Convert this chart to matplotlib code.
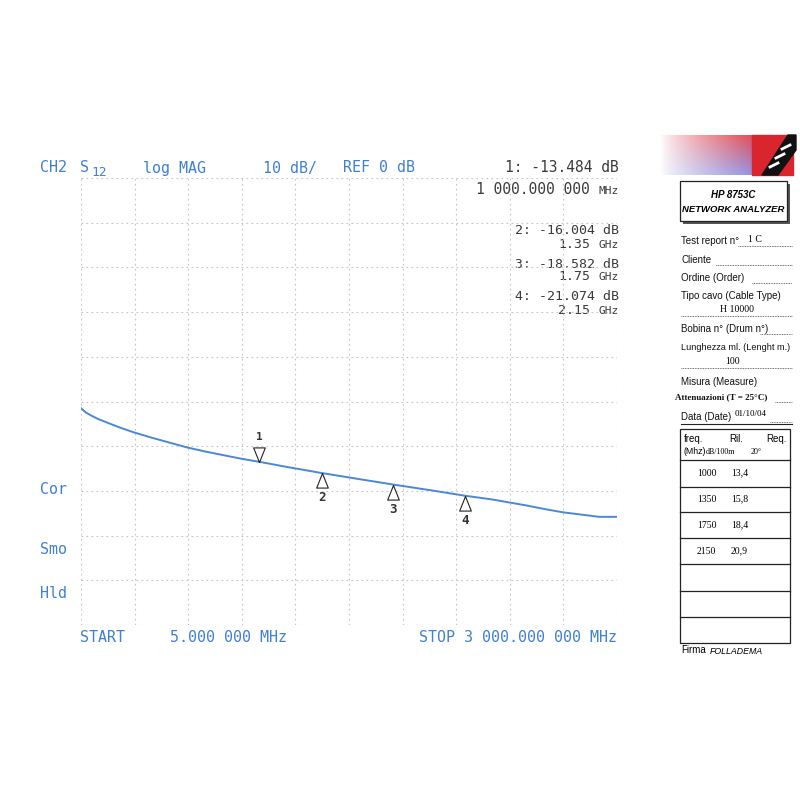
import numpy as np
import matplotlib
matplotlib.use("Agg")
import matplotlib.pyplot as plt
from matplotlib.patches import Rectangle, Polygon

# ---------------- data ----------------
freq_mhz = [5, 30, 60, 100, 150, 220, 300, 400, 500, 600, 700, 800, 900, 1000,
            1150, 1350, 1550, 1750, 1950, 2150, 2300, 2400, 2500, 2600, 2700,
            2800, 2900, 3000]
s12_db = [-1.5, -2.4, -3.1, -3.9, -4.7, -5.8, -6.9, -8.1, -9.2, -10.3, -11.2,
          -12.0, -12.8, -13.484, -14.6, -16.004, -17.3, -18.582, -19.8, -21.074,
          -21.9, -22.6, -23.3, -24.1, -24.8, -25.3, -25.8, -25.8]
marker_ids = ["1", "2", "3", "4"]
marker_freq = [1000, 1350, 1750, 2150]
marker_db = [-13.484, -16.004, -18.582, -21.074]
readout_db = ["1: -13.484 dB", "2: -16.004 dB", "3: -18.582 dB", "4: -21.074 dB"]
readout_num = ["1 000.000 000", "1.35", "1.75", "2.15"]
readout_unit = ["MHz", "GHz", "GHz", "GHz"]
table_freq = ["1000", "1350", "1750", "2150"]
table_ril = ["13,4", "15,8", "18,4", "20,9"]
form_labels = ["Test report n°", "Cliente", "Ordine (Order)", "Tipo cavo (Cable Type)",
               "Bobina n° (Drum n°)", "Lunghezza ml. (Lenght m.)", "Misura (Measure)",
               "Data (Date)"]

BLUE = "#3f7fd6"
DARK = "#3a3a3a"
MONO = "DejaVu Sans Mono"
NARROW = ["Liberation Sans Narrow", "Liberation Sans", "DejaVu Sans"]
SERIF = ["Liberation Serif", "DejaVu Serif"]

fig = plt.figure(figsize=(8, 8), dpi=100)
fig.patch.set_facecolor("white")

# overlay in pixel coordinates for the annotations / form
ov = fig.add_axes([0, 0, 1, 1], zorder=0)
ov.set_xlim(0, 800)
ov.set_ylim(800, 0)
ov.axis("off")

# ---------------- main analyzer trace ----------------
L, R, T, B = 81, 617, 178, 625
ax = fig.add_axes([L / 800, 1 - B / 800, (R - L) / 800, (B - T) / 800], zorder=2)
ax.patch.set_alpha(0)
ax.set_xlim(5, 3000)
ax.set_ylim(-50, 50)
ax.set_xticks(np.linspace(5, 3000, 11))
ax.set_yticks(np.arange(-50, 51, 10))
ax.tick_params(length=0, labelbottom=False, labelleft=False)
for s in ax.spines.values():
    s.set_visible(False)
ax.grid(True, color="#c4c4c4", linestyle=(0, (1.5, 3)), linewidth=0.8)

ax.plot(freq_mhz, s12_db, color="#4a88d8", lw=1.4, zorder=3)

down_tri = [(0, 0), (-0.4, 1), (0.4, 1), (0, 0)]
up_tri = [(0, 0), (-0.4, -1), (0.4, -1), (0, 0)]
for i, (mid, f, d) in enumerate(zip(marker_ids, marker_freq, marker_db)):
    if i == 0:
        ax.plot([f], [d], marker=down_tri, ms=21, mfc="white", mec="#222222",
                mew=0.8, ls="none", zorder=4)
        ax.annotate(mid, (f, d), xytext=(0, 14), textcoords="offset points",
                    ha="center", va="bottom", fontsize=8, family=MONO,
                    color="#333333", fontweight="bold")
    else:
        ax.plot([f], [d], marker=up_tri, ms=21, mfc="white", mec="#222222",
                mew=0.8, ls="none", zorder=4)
        ax.annotate(mid, (f, d), xytext=(0, -13), textcoords="offset points",
                    ha="center", va="top", fontsize=9, family=MONO,
                    color="#333333", fontweight="bold")

# ---------------- analyzer texts ----------------
fs = 10.8
ov.text(40, 168, "CH2", color=BLUE, family=MONO, fontsize=fs, va="center")
ov.text(80, 168, "S", color=BLUE, family=MONO, fontsize=fs, va="center")
ov.text(91, 172, "12", color=BLUE, family=MONO, fontsize=fs - 1.5, va="center")
ov.text(143, 168, "log MAG", color=BLUE, family=MONO, fontsize=fs, va="center")
ov.text(263, 168, "10 dB/", color=BLUE, family=MONO, fontsize=fs, va="center")
ov.text(343, 168, "REF 0 dB", color=BLUE, family=MONO, fontsize=fs, va="center")

ro_y = [(168, 190), (231, 244), (264, 277), (297, 310)]
rfs = 9.5
for (y1, y2), t1, num, unit in zip(ro_y, readout_db, readout_num, readout_unit):
    ov.text(619, y1, t1, color=DARK, family=MONO, fontsize=rfs + 1 if y1 == 168 else rfs,
            ha="right", va="center")
    ov.text(619, y2 + 0.5, unit, color=DARK, family=MONO, fontsize=rfs - 1.5,
            ha="right", va="center")
    ov.text(590, y2, num, color=DARK, family=MONO,
            fontsize=rfs + 1 if y1 == 168 else rfs, ha="right", va="center")

ov.text(40, 490, "Cor", color=BLUE, family=MONO, fontsize=fs, va="center")
ov.text(40, 549, "Smo", color=BLUE, family=MONO, fontsize=fs, va="center")
ov.text(40, 594, "Hld", color=BLUE, family=MONO, fontsize=fs, va="center")
ov.text(80, 637, "START", color=BLUE, family=MONO, fontsize=fs, va="center")
ov.text(170, 637, "5.000 000 MHz", color=BLUE, family=MONO, fontsize=fs, va="center")
ov.text(617, 637, "STOP 3 000.000 000 MHz", color=BLUE, family=MONO, fontsize=fs,
        ha="right", va="center")

# ---------------- right-hand report form ----------------
# gradient banner
gw, gh = 120, 40
xx = np.linspace(0, 1, gw)[None, :]
yy = np.linspace(0, 1, gh)[:, None]
red = np.array([0.88, 0.25, 0.30])
blue = np.array([0.55, 0.55, 0.88])
col = red[None, None, :] * (1 - yy[..., None]) + blue[None, None, :] * yy[..., None]
alpha = np.clip(xx ** 0.8, 0, 1)[..., None] * np.ones((gh, gw, 1))
img = np.concatenate([col * np.ones((gh, gw, 3)), alpha], axis=2)
ov.imshow(img, extent=[660, 760, 175, 135], aspect="auto", zorder=1)
# logo
ov.add_patch(Polygon([(752, 175), (752, 135), (793, 135), (793, 175)],
                     closed=True, color="#d9262e", zorder=2))
ov.add_patch(Polygon([(762, 175), (788, 135), (796, 135), (796, 150), (778, 175)],
                     closed=True, color="#111111", zorder=3))
for k in range(3):
    y0 = 165 - k * 9
    ov.plot([773 + k * 6 - 3, 781 + k * 6 - 3], [y0 + 2, y0 - 2], color="white",
            lw=2, zorder=4)

# HP box with shadow
ov.add_patch(Rectangle((683, 184), 107, 40, facecolor="#555555", edgecolor="none", zorder=2))
ov.add_patch(Rectangle((680, 181), 107, 40, facecolor="white", edgecolor="#222222",
                       lw=0.9, zorder=3))
ov.text(733, 195, "HP 8753C", family=NARROW, fontsize=7, style="italic",
        fontweight="bold", ha="center", va="center", zorder=4)
ov.text(733, 210, "NETWORK ANALYZER", family=NARROW, fontsize=6.8, style="italic",
        fontweight="bold", ha="center", va="center", zorder=4)

form_y = [241, 260, 278, 296, 329, 348, 382, 417]
form_fs = [7, 7, 7, 7, 7, 6.6, 7, 7]
for lab, y, f in zip(form_labels, form_y, form_fs):
    ov.text(681, y, lab, family=NARROW, fontsize=f, va="center", color="#111111")
ov.text(675, 397, "Attenuazioni (T = 25°C)", family=SERIF, fontsize=6.5, va="center",
        color="#111111", fontweight="bold")
# values
ov.text(748, 239, "1 C", family=SERIF, fontsize=7, va="center")
ov.text(737, 310, "H 10000", family=SERIF, fontsize=7, ha="center", va="center")
ov.text(733, 362, "100", family=SERIF, fontsize=7, ha="center", va="center")
ov.text(735, 414, "01/10/04", family=SERIF, fontsize=6.5, va="center")
# dotted underlines
dots = dict(color="#444444", lw=0.6, linestyle=(0, (1, 1)))
for x0, y in [(738, 246), (716, 265), (752, 283), (760, 334), (775, 402), (770, 422)]:
    ov.plot([x0, 792], [y, y], **dots)
for y in [316, 368]:
    ov.plot([681, 792], [y, y], **dots)
ov.plot([681, 792], [424, 424], color="#222222", lw=0.8)

# attenuation table
tx0, tx1, ty0, ty1 = 680, 790, 429, 643
ov.add_patch(Rectangle((tx0, ty0), tx1 - tx0, ty1 - ty0, facecolor="none",
                       edgecolor="#222222", lw=0.9))
for y in [460, 487, 512, 538, 564, 591, 617]:
    ov.plot([tx0, tx1], [y, y], color="#222222", lw=0.9)
ov.text(684, 439, "freq.", family=NARROW, fontsize=7, va="center")
ov.text(729, 439, "Ril.", family=NARROW, fontsize=7, va="center")
ov.text(766, 439, "Req.", family=NARROW, fontsize=7, va="center")
ov.text(683, 452, "(Mhz)", family=NARROW, fontsize=6.3, va="center")
ov.text(706, 452, "dB/100m", family=SERIF, fontsize=5.8, va="center")
ov.text(751, 452, "20°", family=SERIF, fontsize=5.8, va="center")
row_y = [473, 499, 525, 551]
for f, r, y in zip(table_freq, table_ril, row_y):
    ov.text(697, y, f, family=SERIF, fontsize=7, va="center")
    ov.text(731, y, r, family=SERIF, fontsize=7, va="center")
ov.text(681, 650, "Firma", family=NARROW, fontsize=7, va="center")
ov.text(710, 651, "FOLLADEMA", family=NARROW, fontsize=6.3, va="center", style="italic")

fig.savefig("out.png", dpi=100, facecolor="white")
